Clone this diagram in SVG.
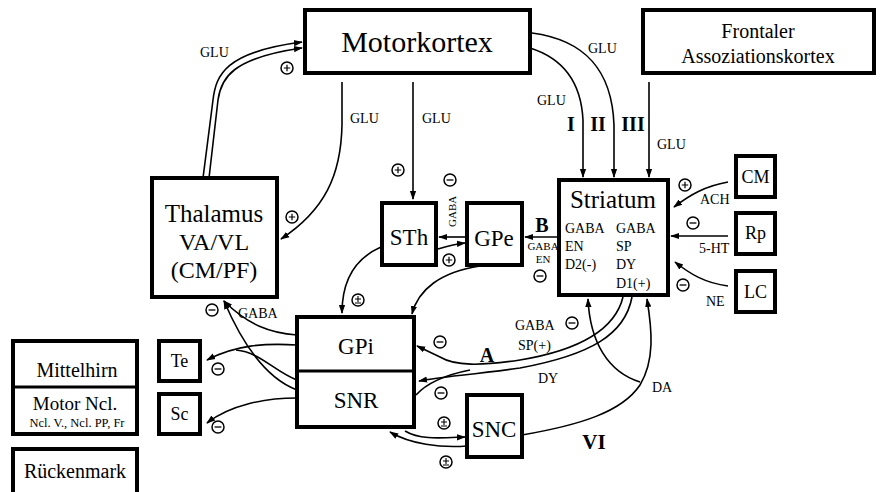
<svg xmlns="http://www.w3.org/2000/svg" width="881" height="492" viewBox="0 0 881 492">
<style>
text{font-family:"Liberation Serif","Times New Roman",serif;fill:#000}
.box{fill:#fff;stroke:#000;stroke-width:4}
.ln{fill:none;stroke:#000;stroke-width:1.6}
.lbl{font-size:14px}
.sm{font-size:11px}
.b{font-weight:bold}
.c{text-anchor:middle}
</style>
<defs>
<marker id="ah" viewBox="0 0 10 10" refX="9" refY="5" markerWidth="9" markerHeight="9" markerUnits="userSpaceOnUse" orient="auto">
<path d="M0,1.5 L10,5 L0,8.5 z" fill="#000"/>
</marker>
<symbol id="plus" viewBox="-7 -7 14 14"><circle r="6" fill="#fff" stroke="#000" stroke-width="1.5"/><path d="M-3.2,0H3.2M0,-3.2V3.2" stroke="#000" stroke-width="1.2"/></symbol>
<symbol id="minus" viewBox="-7 -7 14 14"><circle r="6" fill="#fff" stroke="#000" stroke-width="1.5"/><path d="M-3.4,0H3.4" stroke="#000" stroke-width="1.3"/></symbol>
<symbol id="pm" viewBox="-7 -7 14 14"><circle r="6" fill="#fff" stroke="#000" stroke-width="1.5"/><path d="M-3,-1H3M0,-4V2M-3,3H3" stroke="#000" stroke-width="1.1"/></symbol>
</defs>
<rect width="881" height="492" fill="#fff"/>

<g id="connectors">
<path class="ln" d="M203,178 L213,100 C216,75 225,52 302,42" marker-end="url(#ah)"/>
<path class="ln" d="M209,178 L218,100 C221,78 232,58 302,48" marker-end="url(#ah)"/>
<path class="ln" d="M342,82 L342,125 C341,175 325,210 281,239" marker-end="url(#ah)"/>
<path class="ln" d="M413,82 L413,199" marker-end="url(#ah)"/>
<path class="ln" d="M530,48 C562,58 581,80 583,120 L583,177" marker-end="url(#ah)"/>
<path class="ln" d="M532,33 C585,40 612,70 614,125 L614,177" marker-end="url(#ah)"/>
<path class="ln" d="M649,82 L649,177" marker-end="url(#ah)"/>
<path class="ln" d="M728,182 C705,186 690,195 674,207" marker-end="url(#ah)"/>
<path class="ln" d="M728,236 L671,236" marker-end="url(#ah)"/>
<path class="ln" d="M728,286 C705,283 690,274 675,262" marker-end="url(#ah)"/>
<path class="ln" d="M559,237 L525,237" marker-end="url(#ah)"/>
<path class="ln" d="M467,237 L439,237" marker-end="url(#ah)"/>
<path class="ln" d="M438,249 C448,246 455,244 465,243" marker-end="url(#ah)"/>
<path class="ln" d="M381,247 C356,258 342,280 342,313" marker-end="url(#ah)"/>
<path class="ln" d="M480,266 C440,272 418,290 412,314" marker-end="url(#ah)"/>
<path class="ln" d="M623,297 C615,330 580,350 520,360 C480,366 455,366 440,357 L417,346" marker-end="url(#ah)"/>
<path class="ln" d="M632,297 C625,335 590,355 520,368 C470,375 440,377 419,381" marker-end="url(#ah)"/>
<path class="ln" d="M416,395 C425,385 440,376 470,370"/>
<path class="ln" d="M522,435 C580,425 622,412 640,385 C655,360 652,330 647,299" marker-end="url(#ah)"/>
<path class="ln" d="M640,382 C608,372 590,342 588,299" marker-end="url(#ah)"/>
<path class="ln" d="M405,431 C420,440 440,438 465,437" marker-end="url(#ah)"/>
<path class="ln" d="M467,446 C440,448 410,444 390,432" marker-end="url(#ah)"/>
<path class="ln" d="M297,335 C270,333 248,325 224,301" marker-end="url(#ah)"/>
<path class="ln" d="M297,390 C270,380 245,350 224,301" marker-end="url(#ah)"/>
<path class="ln" d="M297,345 C265,343 235,345 207,360" marker-end="url(#ah)"/>
<path class="ln" d="M297,380 C275,372 260,352 236,350"/>
<path class="ln" d="M297,398 C265,398 230,405 207,423" marker-end="url(#ah)"/>
</g>

<g id="labels">
<text class="lbl" x="200" y="57">GLU</text>
<text class="lbl" x="350" y="123">GLU</text>
<text class="lbl" x="422" y="123">GLU</text>
<text class="lbl" x="588" y="53">GLU</text>
<text class="lbl" x="537" y="105">GLU</text>
<text class="lbl" x="657" y="149">GLU</text>
<text class="b" x="571" y="131" font-size="20" text-anchor="middle">I</text>
<text class="b" x="598" y="131" font-size="20" text-anchor="middle">II</text>
<text class="b" x="633" y="131" font-size="20" text-anchor="middle">III</text>
<text class="lbl" x="700" y="204">ACH</text>
<text class="lbl" x="699" y="253">5-HT</text>
<text class="lbl" x="706" y="306">NE</text>
<text class="b" x="542" y="232" font-size="20" text-anchor="middle">B</text>
<text class="sm c" x="543" y="250">GABA</text>
<text class="sm c" x="543" y="263">EN</text>
<text class="sm" transform="translate(456,227) rotate(-90)">GABA</text>
<text class="lbl" x="515" y="330">GABA</text>
<text class="lbl" x="518" y="350">SP(+)</text>
<text class="b" x="487" y="362" font-size="20" text-anchor="middle">A</text>
<text class="lbl" x="538" y="383">DY</text>
<text class="lbl" x="652" y="392">DA</text>
<text class="b" x="594" y="449" font-size="21" text-anchor="middle">VI</text>
<text class="lbl" x="238" y="318">GABA</text>
</g>

<g id="symbols">
<use href="#plus" x="280" y="61" width="14" height="14"/>
<use href="#plus" x="285" y="210" width="14" height="14"/>
<use href="#plus" x="391" y="163" width="14" height="14"/>
<use href="#minus" x="443" y="173" width="14" height="14"/>
<use href="#plus" x="442" y="253" width="14" height="14"/>
<use href="#minus" x="533" y="269" width="14" height="14"/>
<use href="#plus" x="678" y="178" width="14" height="14"/>
<use href="#minus" x="686" y="216" width="14" height="14"/>
<use href="#minus" x="676" y="278" width="14" height="14"/>
<use href="#pm" x="351" y="293" width="14" height="14"/>
<use href="#minus" x="565" y="316" width="14" height="14"/>
<use href="#minus" x="433" y="335" width="14" height="14"/>
<use href="#minus" x="434" y="386" width="14" height="14"/>
<use href="#pm" x="437" y="416" width="14" height="14"/>
<use href="#pm" x="439" y="455" width="14" height="14"/>
<use href="#minus" x="205" y="303" width="14" height="14"/>
<use href="#minus" x="211" y="362" width="14" height="14"/>
<use href="#minus" x="211" y="420" width="14" height="14"/>
</g>

<g id="motorkortex">
<rect class="box" x="305" y="10" width="225" height="63"/>
<text class="c" x="417" y="52" font-size="30">Motorkortex</text>
</g>
<g id="frontaler">
<rect class="box" x="643" y="10" width="231" height="63"/>
<text class="c" x="758" y="38" font-size="20">Frontaler</text>
<text class="c" x="758" y="63" font-size="20">Assoziationskortex</text>
</g>
<g id="thalamus">
<rect class="box" x="152" y="178" width="125" height="119"/>
<text class="c" x="214" y="222" font-size="25">Thalamus</text>
<text class="c" x="214" y="250" font-size="24">VA/VL</text>
<text class="c" x="214" y="278" font-size="24">(CM/PF)</text>
</g>
<g id="sth">
<rect class="box" x="382" y="203" width="54" height="62"/>
<text class="c" x="409" y="245" font-size="23">STh</text>
</g>
<g id="gpe">
<rect class="box" x="467" y="203" width="55" height="62"/>
<text class="c" x="494" y="246" font-size="23">GPe</text>
</g>
<g id="striatum">
<rect class="box" x="559" y="180" width="109" height="115"/>
<text class="c" x="613" y="208" font-size="25">Striatum</text>
<text class="lbl" x="565" y="233">GABA</text>
<text class="lbl" x="565" y="251">EN</text>
<text class="lbl" x="565" y="269">D2(-)</text>
<text class="lbl" x="616" y="233">GABA</text>
<text class="lbl" x="616" y="251">SP</text>
<text class="lbl" x="616" y="269">DY</text>
<text class="lbl" x="616" y="288">D1(+)</text>
</g>
<g id="cm">
<rect class="box" x="736" y="156" width="39" height="41"/>
<text class="c" x="755.5" y="183" font-size="18">CM</text>
</g>
<g id="rp">
<rect class="box" x="736" y="213" width="39" height="41"/>
<text class="c" x="755.5" y="239" font-size="18">Rp</text>
</g>
<g id="lc">
<rect class="box" x="736" y="271" width="39" height="41"/>
<text class="c" x="755.5" y="298" font-size="18">LC</text>
</g>
<g id="gpi-snr">
<rect class="box" x="297" y="317" width="117" height="110"/>
<line x1="297" y1="371" x2="414" y2="371" stroke="#000" stroke-width="3"/>
<text class="c" x="356" y="354" font-size="23">GPi</text>
<text class="c" x="356" y="408" font-size="23">SNR</text>
</g>
<g id="snc">
<rect class="box" x="467" y="395" width="55" height="62"/>
<text class="c" x="494" y="437" font-size="23">SNC</text>
</g>
<g id="te">
<rect class="box" x="159" y="341" width="41" height="40"/>
<text class="c" x="179.5" y="367" font-size="18">Te</text>
</g>
<g id="sc">
<rect class="box" x="159" y="394" width="41" height="40"/>
<text class="c" x="179.5" y="420" font-size="18">Sc</text>
</g>
<g id="mittelhirn">
<rect class="box" x="13" y="341" width="124" height="93"/>
<line x1="13" y1="387" x2="137" y2="387" stroke="#000" stroke-width="3"/>
<text class="c" x="77" y="377" font-size="20">Mittelhirn</text>
<text class="c" x="75" y="410" font-size="19">Motor Ncl.</text>
<text class="c" x="77" y="427" font-size="12.5">Ncl. V., Ncl. PP, Fr</text>
</g>
<g id="rueckenmark">
<rect class="box" x="13" y="449" width="124" height="60"/>
<text class="c" x="75" y="478" font-size="20">Rückenmark</text>
</g>
</svg>
